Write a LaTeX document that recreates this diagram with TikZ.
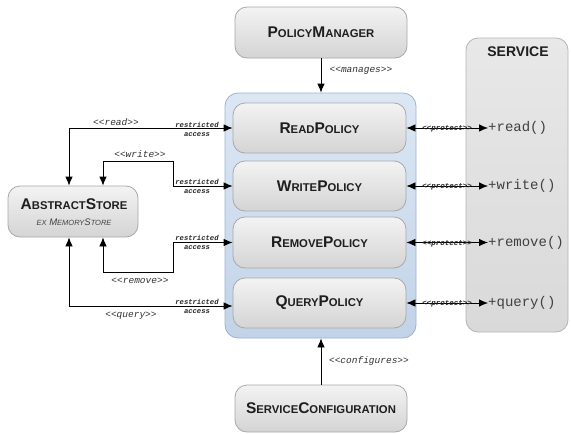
\documentclass[tikz,border=0pt]{standalone}
\usepackage{fontspec}
\setmainfont{Liberation Sans}
\newfontfamily\monofont{Liberation Mono}
\usetikzlibrary{arrows.meta,calc}

\definecolor{boxtop}{HTML}{F3F3F3}
\definecolor{boxbot}{HTML}{D4D4D4}
\definecolor{boxline}{HTML}{A8A8A8}
\definecolor{conttop}{HTML}{DCE7F4}
\definecolor{contbot}{HTML}{C2D3E8}
\definecolor{contline}{HTML}{9AB3D2}
\definecolor{svctop}{HTML}{E8E8E8}
\definecolor{svcbot}{HTML}{D9D9D9}
\definecolor{svcline}{HTML}{B5B5B5}
\definecolor{ink}{HTML}{1E1E1E}

% bold small-caps style word: large initial, smaller capitals
\newcommand\scword[2]{{\fontsize{15.5}{15}\selectfont #1}{\fontsize{11.3}{11}\selectfont #2}}
% italic small-caps for the subtitle
\newcommand\scital[2]{{\fontsize{9.5}{10}\selectfont #1}{\fontsize{7.5}{8}\selectfont #2}}

\begin{document}
\begin{tikzpicture}[x=1pt,y=-1pt,
  compbox/.style={draw=boxline, line width=0.8pt, rounded corners=12pt,
    top color=boxtop, bottom color=boxbot, align=center, text=ink,
    inner sep=0pt, font=\bfseries},
  container/.style={draw=contline, line width=0.8pt, rounded corners=13pt,
    top color=conttop, bottom color=contbot, inner sep=0pt},
  svcbox/.style={draw=svcline, line width=0.8pt, rounded corners=12pt,
    top color=svctop, bottom color=svcbot, inner sep=0pt},
  method/.style={font=\monofont\fontsize{14}{14}\selectfont, text=black!75,
    inner sep=0pt, anchor=west},
  stereo/.style={font=\monofont\itshape\fontsize{9.5}{10}\selectfont,
    text=black!80, inner sep=0pt},
  tinystereo/.style={font=\monofont\itshape\bfseries\fontsize{7.5}{8}\selectfont,
    text=black!85, inner sep=0pt},
  restr/.style={font=\monofont\itshape\bfseries\fontsize{7.2}{9}\selectfont,
    text=black!85, inner sep=0pt, align=center},
  tip/.style={line width=0.8pt, -{Latex[length=9pt,width=7.5pt]}},
  bitip/.style={line width=0.8pt, {Latex[length=9pt,width=7.5pt]}-{Latex[length=9pt,width=7.5pt]}}
]
\useasboundingbox (0,0) rectangle (571,434);
\fill[white] (0,0) rectangle (571,434);

% policy manager and configuration
\node[compbox, minimum width=172pt, minimum height=51pt] (pm) at (321,32.5)
  {\scword{P}{OLICY}\scword{M}{ANAGER}};
\node[compbox, minimum width=172pt, minimum height=47pt] (sc) at (321,408.5)
  {\scword{S}{ERVICE}\scword{C}{ONFIGURATION}};

% policy container with its four policies
\node[container, minimum width=191pt, minimum height=245pt] (pc) at (320.5,215.5) {};
\node[compbox, minimum width=173pt, minimum height=50pt] (rp) at (319.5,128)
  {\scword{R}{EAD}\scword{P}{OLICY}};
\node[compbox, minimum width=173pt, minimum height=50pt] (wp) at (319.5,186)
  {\scword{W}{RITE}\scword{P}{OLICY}};
\node[compbox, minimum width=173pt, minimum height=51pt] (mp) at (319.5,242.5)
  {\scword{R}{EMOVE}\scword{P}{OLICY}};
\node[compbox, minimum width=173pt, minimum height=50pt] (qp) at (319.5,303)
  {\scword{Q}{UERY}\scword{P}{OLICY}};

% store
\node[compbox, minimum width=130pt, minimum height=51pt] (as) at (73,211.5) {};
\node[inner sep=0pt, font=\bfseries, text=ink] (astitle) at (74,204)
  {\scword{A}{BSTRACT}\scword{S}{TORE}};
\node[inner sep=0pt, font=\itshape, text=black!75] (assub) at (74,222)
  {\scital{}{EX} \scital{M}{EMORY}\scital{S}{TORE}};

% service
\node[svcbox, minimum width=102pt, minimum height=294pt] (svc) at (517,185) {};
\node[inner sep=0pt, font=\bfseries\fontsize{14}{14}\selectfont, text=ink] (svct) at (518,52) {SERVICE};
\node[method] (mr) at (488,128) {+read()};
\node[method] (mw) at (488,186) {+write()};
\node[method] (mm) at (488,242.5) {+remove()};
\node[method] (mq) at (488,303) {+query()};

% manages / configures
\draw[tip] (pm.south) -- (pm.south |- pc.north);
\node[stereo] (lman) at (361,71) {<<manages>>};
\draw[tip] (sc.north) -- (sc.north |- pc.south);
\node[stereo] (lconf) at (369,361) {<<configures>>};

% protection of the service operations
\foreach \p/\m in {rp/mr, wp/mw, mp/mm, qp/mq}{
  \draw[bitip] (\p.east) -- (\m.west);
  \node[tinystereo] at ([yshift=-1pt]$(\p.east)!0.5!(\m.west)$) {<<protect>>};
}

% store access paths
\coordinate (wbend) at (173,161);
\coordinate (mbend) at (173,272);
\draw[bitip] (rp.west) -| ([xshift=-4pt]as.north);
\draw[bitip] (wp.west) -| (wbend) -| ([xshift=30pt]as.north);
\draw[bitip] (mp.west) -| (mbend) -| ([xshift=30pt]as.south);
\draw[bitip] ([yshift=-3pt]qp.west) -| ([xshift=-4pt]as.south);

\node[stereo] (lread) at (116,122) {<<read>>};
\node[stereo] (lwrite) at (140,154) {<<write>>};
\node[stereo] (lremove) at (140,281) {<<remove>>};
\node[stereo] (lquery) at (131,316) {<<query>>};

\node[restr] at (197,129) {restricted\\access};
\node[restr] at (197,186) {restricted\\access};
\node[restr] at (197,242) {restricted\\access};
\node[restr] at (197,306) {restricted\\access};
\end{tikzpicture}
\end{document}
